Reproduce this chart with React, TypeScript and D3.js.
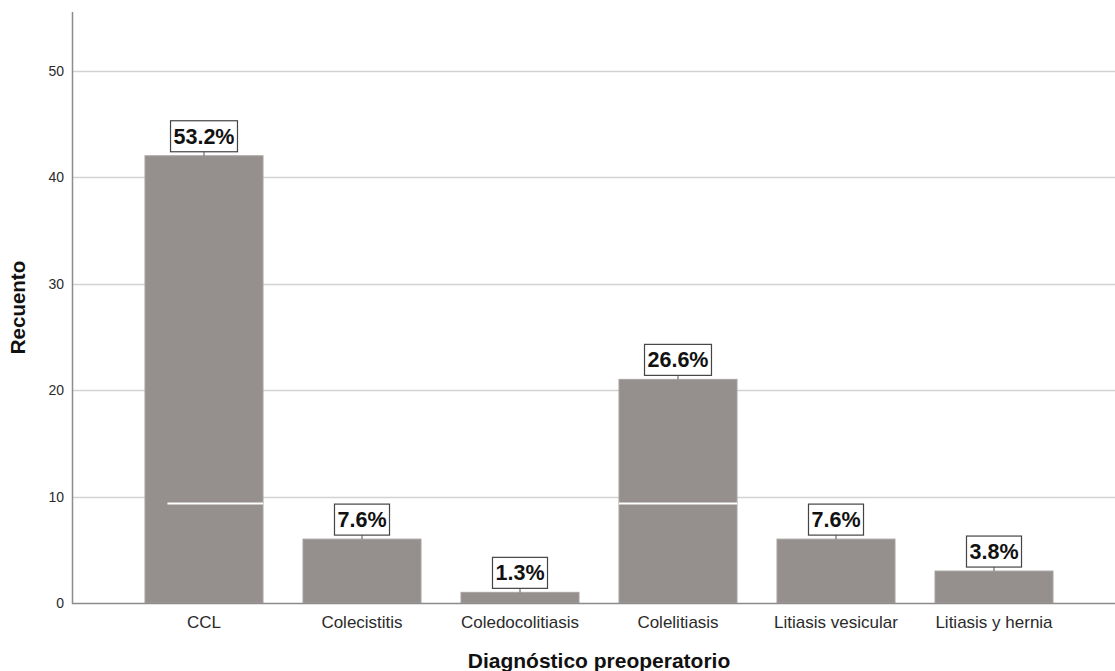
import { useEffect, useRef } from 'react';
import * as d3 from 'd3';

const categories = ['CCL', 'Colecistitis', 'Coledocolitiasis', 'Colelitiasis', 'Litiasis vesicular', 'Litiasis y hernia'];
const counts = [42, 6, 1, 21, 6, 3];
const percentLabels = ['53.2%', '7.6%', '1.3%', '26.6%', '7.6%', '3.8%'];
const yTicks = [0, 10, 20, 30, 40, 50];

export default function App() {
  const ref = useRef<SVGSVGElement>(null);

  useEffect(() => {
    if (!ref.current) return;
    const svg = d3.select(ref.current);
    svg.selectAll('*').remove();

    const width = 1115;
    const height = 671;
    const font = 'Liberation Sans, Arial, sans-serif';

    const y = d3.scaleLinear().domain([0, 55.5]).range([603, 12]);
    const x = d3.scaleBand<string>()
      .domain(categories)
      .range([125, 1073])
      .paddingInner(0.253)
      .paddingOuter(0.1265);

    svg.attr('width', width).attr('height', height);

    // gridlines
    svg.append('g')
      .selectAll('line')
      .data(yTicks.filter(t => t > 0))
      .join('line')
      .attr('x1', 72)
      .attr('x2', width)
      .attr('y1', d => Math.round(y(d)) + 0.5)
      .attr('y2', d => Math.round(y(d)) + 0.5)
      .attr('stroke', '#d2d2d2')
      .attr('stroke-width', 1.5);

    // bars
    svg.append('g')
      .selectAll('rect')
      .data(categories)
      .join('rect')
      .attr('x', d => x(d)!)
      .attr('width', x.bandwidth())
      .attr('y', (d, i) => y(counts[i]))
      .attr('height', (d, i) => y(0) - y(counts[i]))
      .attr('fill', '#958f8e')
      .attr('stroke', '#a8a3a2')
      .attr('stroke-width', 1);

    // white render artifacts across the two tallest bars
    const artifacts = [
      { cat: 'CCL', start: 0.19 },
      { cat: 'Colelitiasis', start: 0 },
    ];
    svg.append('g')
      .selectAll('line')
      .data(artifacts)
      .join('line')
      .attr('x1', d => x(d.cat)! + x.bandwidth() * d.start)
      .attr('x2', d => x(d.cat)! + x.bandwidth())
      .attr('y1', y(9.35))
      .attr('y2', y(9.35))
      .attr('stroke', '#ffffff')
      .attr('stroke-width', 2);

    // axes lines
    svg.append('line')
      .attr('x1', 72.5).attr('x2', 72.5)
      .attr('y1', 12).attr('y2', 604)
      .attr('stroke', '#8c8c8c').attr('stroke-width', 1.5);
    svg.append('line')
      .attr('x1', 72).attr('x2', width)
      .attr('y1', 603.5).attr('y2', 603.5)
      .attr('stroke', '#8c8c8c').attr('stroke-width', 1.5);

    // y tick labels
    svg.append('g')
      .selectAll('text')
      .data(yTicks)
      .join('text')
      .attr('x', 64)
      .attr('y', d => y(d) + 5)
      .attr('text-anchor', 'end')
      .style('font-family', font)
      .style('font-size', '14px')
      .style('fill', '#2a2a2a')
      .text(d => d);

    // category labels
    svg.append('g')
      .selectAll('text')
      .data(categories)
      .join('text')
      .attr('x', d => x(d)! + x.bandwidth() / 2)
      .attr('y', 628)
      .attr('text-anchor', 'middle')
      .style('font-family', font)
      .style('font-size', '17px')
      .style('fill', '#2a2a2a')
      .text(d => d);

    // percentage labels in boxes
    const labels = svg.append('g')
      .selectAll('g')
      .data(categories)
      .join('g')
      .attr('transform', (d, i) => `translate(${x(d)! + x.bandwidth() / 2},${y(counts[i]) - 3})`);

    labels.append('line')
      .attr('x1', 0).attr('x2', 0)
      .attr('y1', -1).attr('y2', 3)
      .attr('stroke', '#555').attr('stroke-width', 1);

    labels.append('text')
      .attr('x', 0)
      .attr('y', -9)
      .attr('text-anchor', 'middle')
      .style('font-family', font)
      .style('font-size', '21.5px')
      .style('font-weight', 'bold')
      .style('fill', '#111')
      .text((d, i) => percentLabels[i])
      .each(function () {
        const bb = (this as SVGTextElement).getBBox();
        d3.select((this as SVGTextElement).parentNode as SVGGElement)
          .insert('rect', 'text')
          .attr('x', bb.x - 3)
          .attr('y', -32)
          .attr('width', bb.width + 6)
          .attr('height', 31)
          .attr('fill', '#fff')
          .attr('stroke', '#444')
          .attr('stroke-width', 1.2);
      });

    // axis titles
    svg.append('text')
      .attr('transform', `translate(25,${y(27.75)}) rotate(-90)`)
      .attr('text-anchor', 'middle')
      .style('font-family', font)
      .style('font-size', '20.5px')
      .style('font-weight', 'bold')
      .style('fill', '#111')
      .text('Recuento');

    svg.append('text')
      .attr('x', 599)
      .attr('y', 668)
      .attr('text-anchor', 'middle')
      .style('font-family', font)
      .style('font-size', '21px')
      .style('font-weight', 'bold')
      .style('fill', '#111')
      .text('Diagnóstico preoperatorio');
  }, []);

  return (
    <div style={{ position: 'absolute', left: 0, top: 0 }}>
      <svg ref={ref} style={{ display: 'block' }}></svg>
    </div>
  );
}
